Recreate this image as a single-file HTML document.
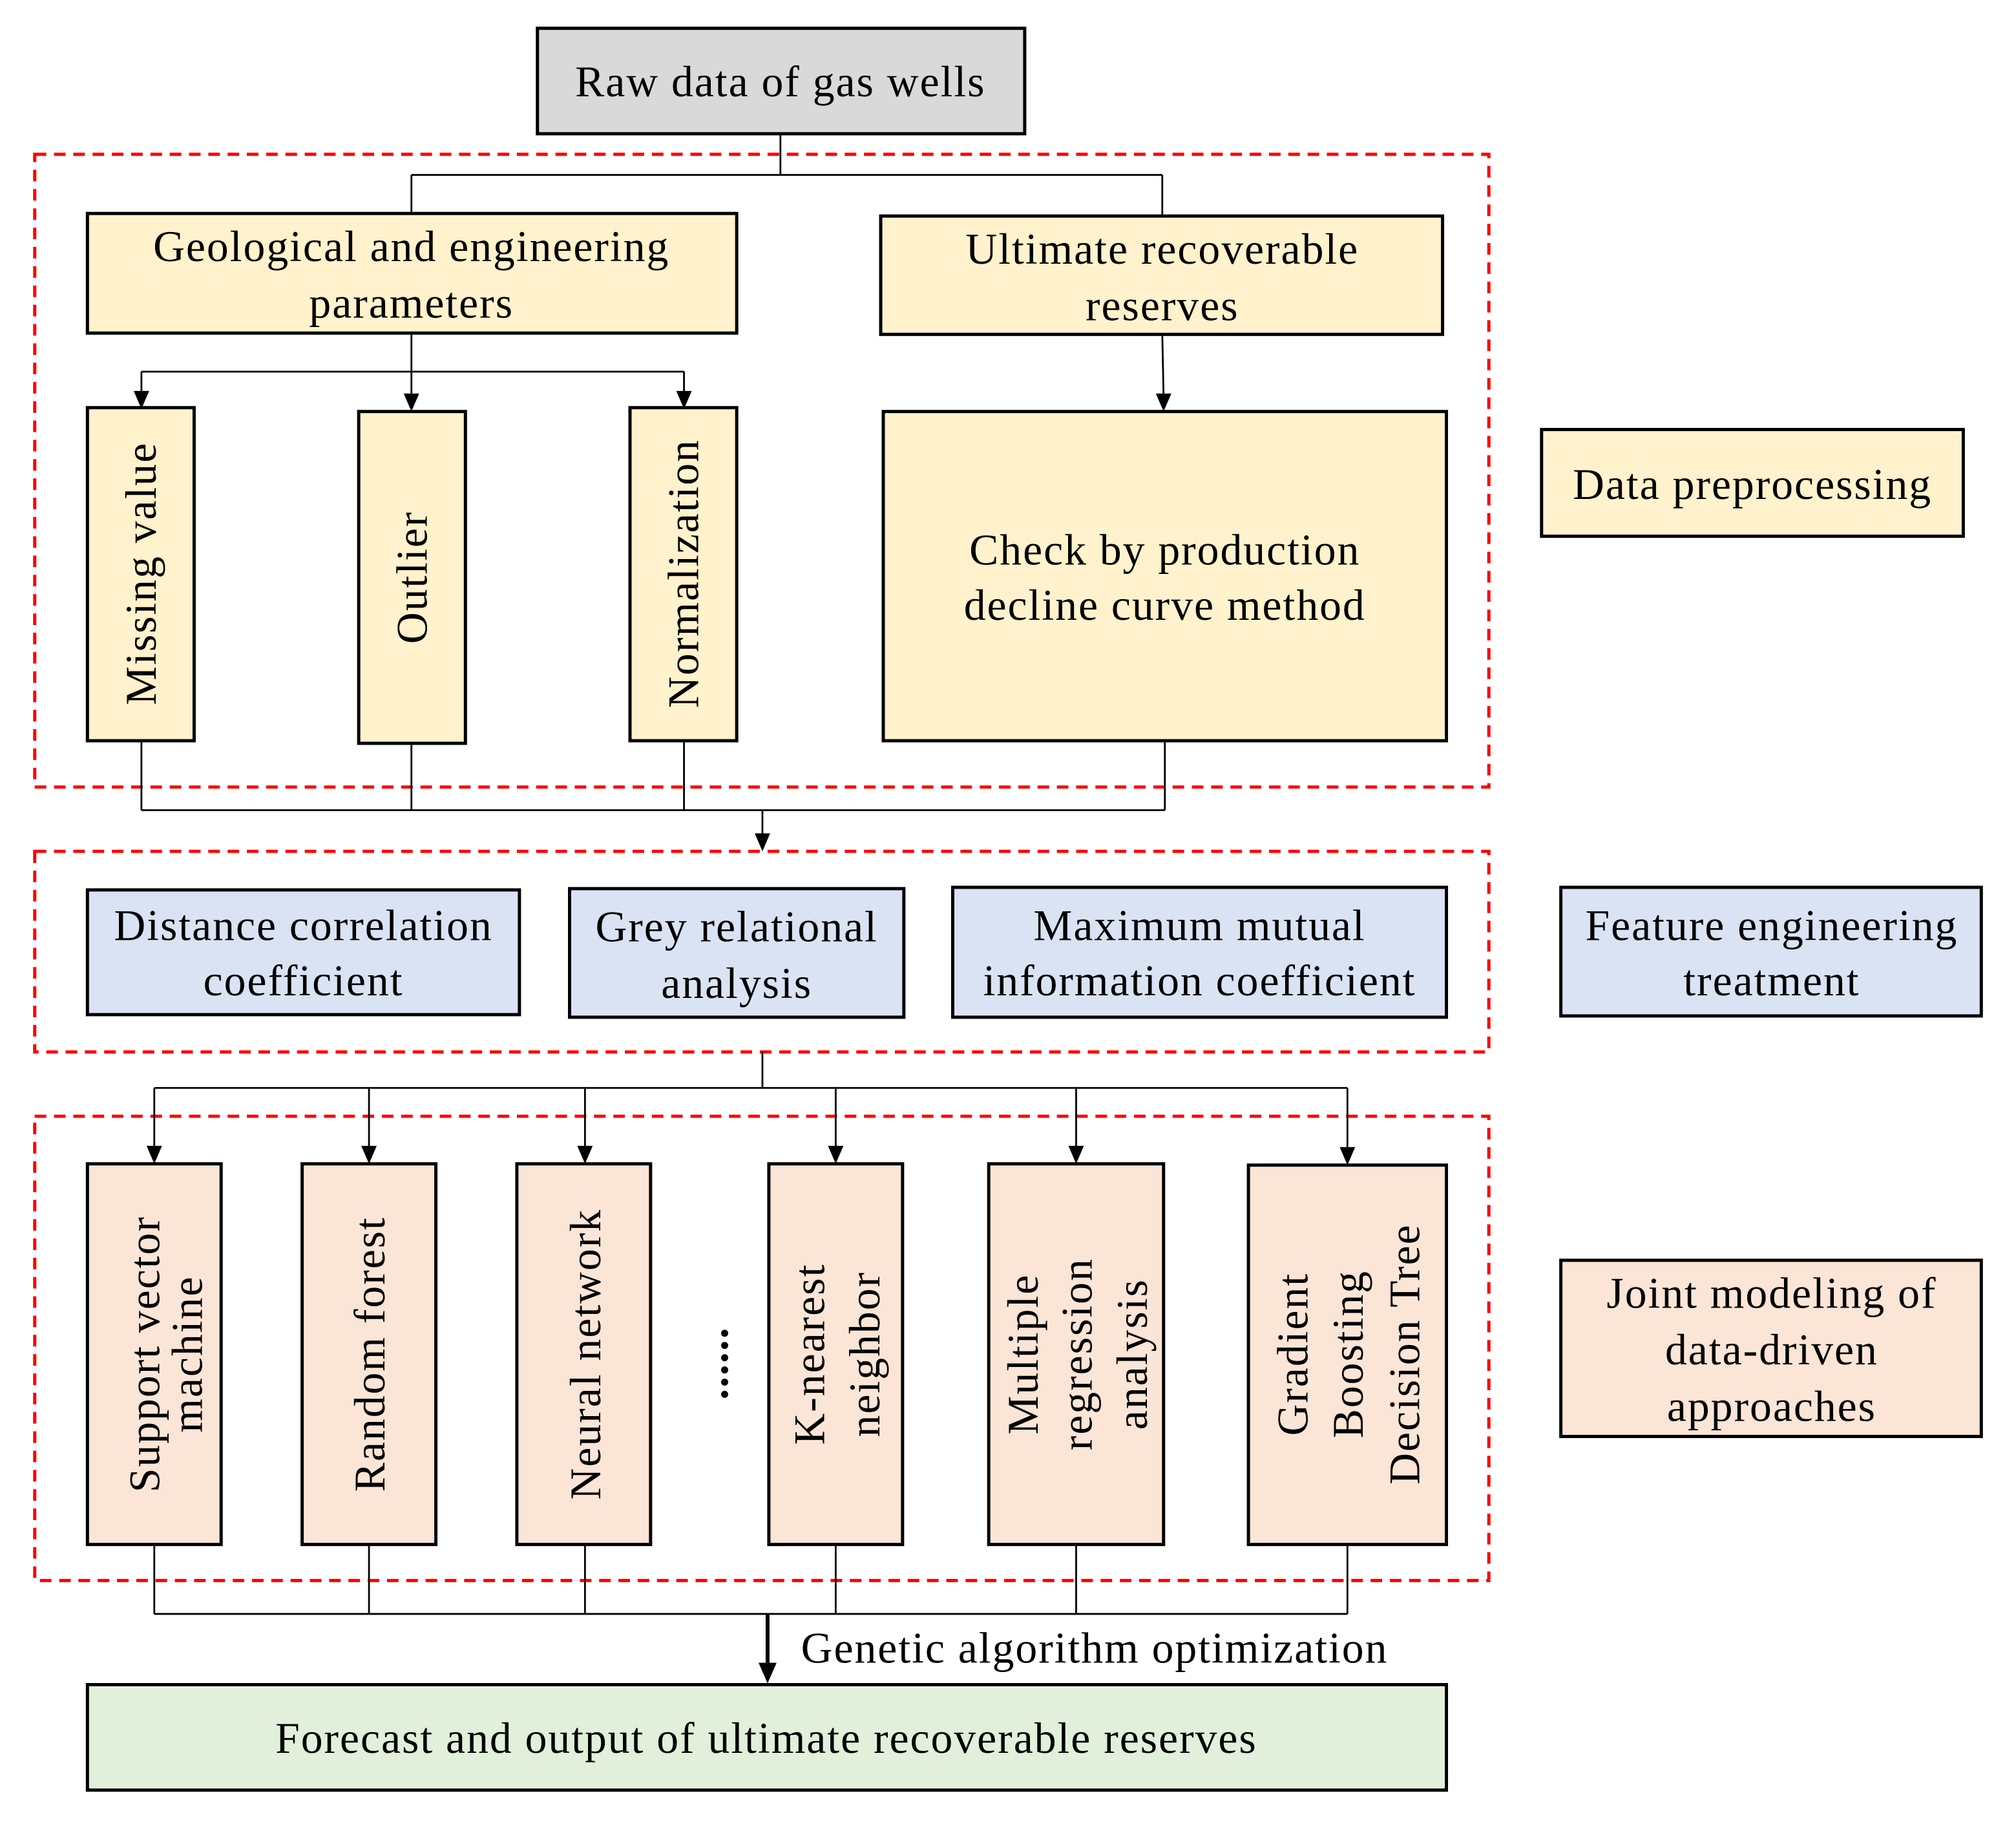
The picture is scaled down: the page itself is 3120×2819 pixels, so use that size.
<!DOCTYPE html>
<html><head><meta charset="utf-8"><style>html,body{margin:0;padding:0;background:#fff}svg{display:block}</style></head>
<body>
<svg xmlns="http://www.w3.org/2000/svg" width="3120" height="2819" viewBox="0 0 1568 1416.8" preserveAspectRatio="none" font-family="'Liberation Serif', serif" font-size="34" letter-spacing="1" fill="#000">
<style>
.b{stroke:#000;stroke-width:2.5}
.l{stroke:#000;stroke-width:1.4;fill:none}
.r{stroke:#f00;stroke-width:2.5;fill:none;stroke-dasharray:9 6}
text{text-anchor:middle}
</style>
<rect class="r" x="27" y="120" width="1131" height="492"/>
<rect class="r" x="27" y="662" width="1131" height="156"/>
<rect class="r" x="27" y="868" width="1131" height="361"/>

<path class="l" d="M607,104 V136 M320,136 H904 M320,136 V166 M904,136 V168"/>
<path class="l" d="M320,259 V289 M110,289 H532"/>
<path d="M110,289 V307 M320,289 V309 M532,289 V307" class="l"/>
<path d="M104,304 L116,304 L110,318Z M314,306 L326,306 L320,320Z M526,304 L538,304 L532,318Z"/>
<path class="l" d="M904,260 L905,308"/>
<path d="M899,306 L911,306 L905,320Z"/>
<path class="l" d="M110,576 V630 M320,578 V630 M532,576 V630 M906,576 V630 M110,630 H906 M593,630 V650"/>
<path d="M587,648 L599,648 L593,662Z"/>
<path class="l" d="M593,818 V846 M120,846 H1048"/>
<path class="l" d="M120,846 V893 M287,846 V893 M455,846 V893 M650,846 V893 M837,846 V893 M1048,846 V894"/>
<path d="M114,891 L126,891 L120,905Z M281,891 L293,891 L287,905Z M449,891 L461,891 L455,905Z M644,891 L656,891 L650,905Z M831,891 L843,891 L837,905Z M1042,892 L1054,892 L1048,906Z"/>
<path class="l" d="M120,1201 V1255 M287,1201 V1255 M455,1201 V1255 M650,1201 V1255 M837,1201 V1255 M1048,1201 V1255 M120,1255 H1048"/>
<path d="M597,1255 V1296" stroke="#000" stroke-width="3"/>
<path d="M590,1293 L604,1293 L597,1309Z"/>

<rect class="b" x="418" y="22" width="379" height="82" fill="#d9d9d9"/>
<text x="607" y="75">Raw data of gas wells</text>

<rect class="b" x="68" y="166" width="505" height="93" fill="#fff2cc"/>
<text x="320" y="203">Geological and engineering</text>
<text x="320" y="247">parameters</text>
<rect class="b" x="685" y="168" width="437" height="92" fill="#fff2cc"/>
<text x="904" y="205">Ultimate recoverable</text>
<text x="904" y="249">reserves</text>

<rect class="b" x="68" y="317" width="83" height="259" fill="#fff2cc"/>
<text transform="translate(121,446) rotate(-90)">Missing value</text>
<rect class="b" x="279" y="320" width="83" height="258" fill="#fff2cc"/>
<text transform="translate(332,449) rotate(-90)">Outlier</text>
<rect class="b" x="490" y="317" width="83" height="259" fill="#fff2cc"/>
<text transform="translate(543,446) rotate(-90)">Normalization</text>
<rect class="b" x="687" y="320" width="438" height="256" fill="#fff2cc"/>
<text x="906" y="439">Check by production</text>
<text x="906" y="482">decline curve method</text>
<rect class="b" x="1199" y="334" width="328" height="83" fill="#fff2cc"/>
<text x="1363" y="388">Data preprocessing</text>

<rect class="b" x="68" y="692" width="336" height="97" fill="#dae3f3"/>
<text x="236" y="731">Distance correlation</text>
<text x="236" y="774">coefficient</text>
<rect class="b" x="443" y="691" width="260" height="100" fill="#dae3f3"/>
<text x="573" y="732">Grey relational</text>
<text x="573" y="776">analysis</text>
<rect class="b" x="741" y="690" width="384" height="101" fill="#dae3f3"/>
<text x="933" y="731">Maximum mutual</text>
<text x="933" y="774">information coefficient</text>
<rect class="b" x="1214" y="690" width="327" height="100" fill="#dae3f3"/>
<text x="1378" y="731">Feature engineering</text>
<text x="1378" y="774">treatment</text>

<rect class="b" x="68" y="905" width="104" height="296" fill="#fbe5d6"/>
<text transform="translate(124,1053) rotate(-90)">Support vector</text>
<text transform="translate(157,1053) rotate(-90)">machine</text>
<rect class="b" x="235" y="905" width="104" height="296" fill="#fbe5d6"/>
<text transform="translate(299,1053) rotate(-90)">Random forest</text>
<rect class="b" x="402" y="905" width="104" height="296" fill="#fbe5d6"/>
<text transform="translate(467,1053) rotate(-90)">Neural network</text>
<text transform="translate(566,1060) rotate(-90)" font-weight="bold">......</text>
<rect class="b" x="598" y="905" width="104" height="296" fill="#fbe5d6"/>
<text transform="translate(641,1053) rotate(-90)">K-nearest</text>
<text transform="translate(684,1053) rotate(-90)">neighbor</text>
<rect class="b" x="769" y="905" width="136" height="296" fill="#fbe5d6"/>
<text transform="translate(807,1053) rotate(-90)">Multiple</text>
<text transform="translate(849,1053) rotate(-90)">regression</text>
<text transform="translate(892,1053) rotate(-90)">analysis</text>
<rect class="b" x="971" y="906" width="154" height="295" fill="#fbe5d6"/>
<text transform="translate(1017,1053) rotate(-90)">Gradient</text>
<text transform="translate(1060,1053) rotate(-90)">Boosting</text>
<text transform="translate(1104,1053) rotate(-90)">Decision Tree</text>
<rect class="b" x="1214" y="980" width="327" height="137" fill="#fbe5d6"/>
<text x="1378" y="1017">Joint modeling of</text>
<text x="1378" y="1061">data-driven</text>
<text x="1378" y="1105">approaches</text>

<text x="623" y="1293" style="text-anchor:start">Genetic algorithm optimization</text>
<rect class="b" x="68" y="1310" width="1057" height="82" fill="#e2efda"/>
<text x="596" y="1363">Forecast and output of ultimate recoverable reserves</text>
</svg>
</body></html>
